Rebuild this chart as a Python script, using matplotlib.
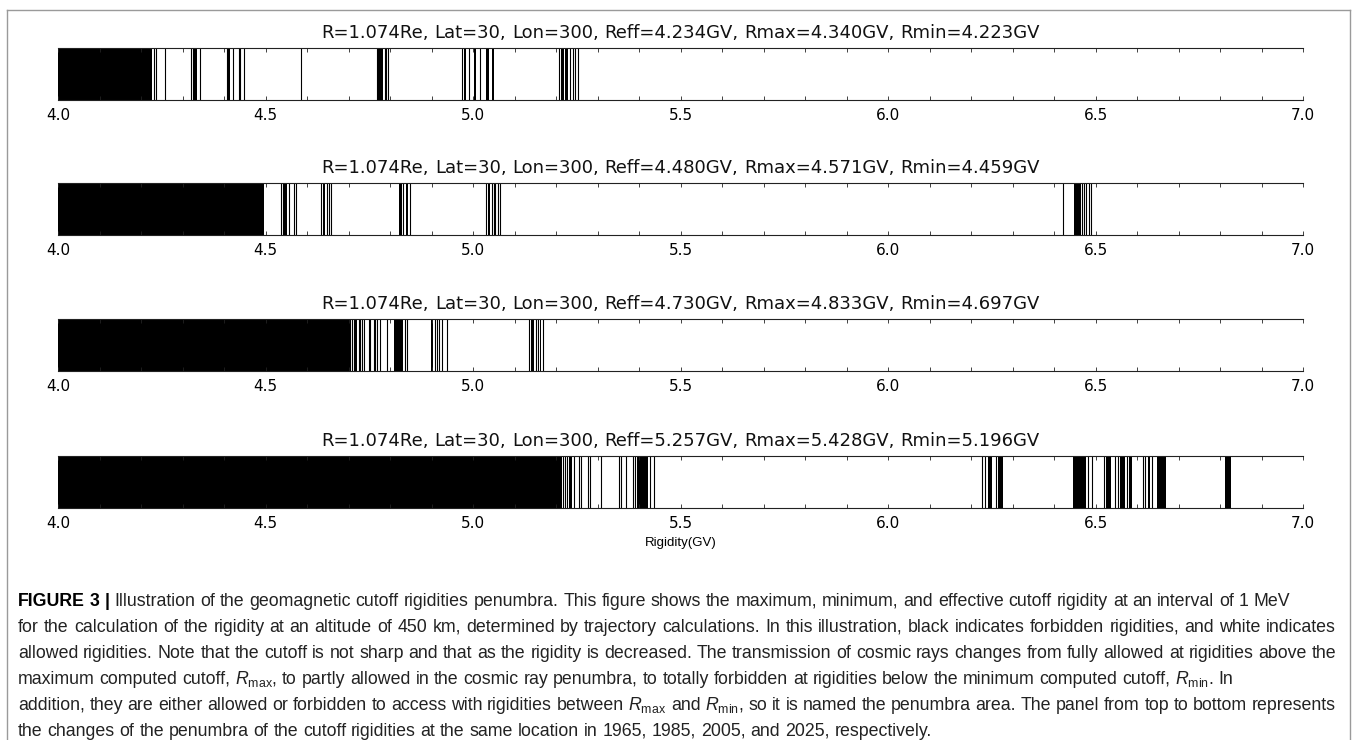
import matplotlib
matplotlib.use("Agg")
import matplotlib.pyplot as plt
import matplotlib.font_manager as fm
from matplotlib.lines import Line2D
from matplotlib.ticker import MultipleLocator, FormatStrFormatter

W, H = 1356, 740

titles = [
    "R=1.074Re, Lat=30, Lon=300, Reff=4.234GV, Rmax=4.340GV, Rmin=4.223GV",
    "R=1.074Re, Lat=30, Lon=300, Reff=4.480GV, Rmax=4.571GV, Rmin=4.459GV",
    "R=1.074Re, Lat=30, Lon=300, Reff=4.730GV, Rmax=4.833GV, Rmin=4.697GV",
    "R=1.074Re, Lat=30, Lon=300, Reff=5.257GV, Rmax=5.428GV, Rmin=5.196GV",
]

# forbidden rigidity bands (GV), (lo, hi); lo == hi is a single 1 MeV step
forbidden_1965 = [
    (4.000, 4.225), (4.230, 4.230), (4.235, 4.235), (4.258, 4.258),
    (4.319, 4.319), (4.324, 4.324), (4.327, 4.334), (4.342, 4.342),
    (4.406, 4.406), (4.410, 4.413), (4.422, 4.422), (4.436, 4.436),
    (4.439, 4.439), (4.448, 4.448), (4.585, 4.587),
    (4.769, 4.769), (4.771, 4.783), (4.787, 4.787), (4.791, 4.791), (4.795, 4.795),
    (4.974, 4.974), (4.978, 4.983), (4.991, 4.991), (5.001, 5.007), (5.017, 5.017),
    (5.031, 5.037), (5.045, 5.051),
    (5.208, 5.208), (5.211, 5.218), (5.222, 5.228), (5.234, 5.234), (5.240, 5.240),
    (5.246, 5.246), (5.252, 5.252),
]
forbidden_1985 = [
    (4.000, 4.461), (4.463, 4.496),
    (4.536, 4.536), (4.541, 4.541), (4.545, 4.551), (4.555, 4.555), (4.567, 4.567),
    (4.573, 4.573),
    (4.634, 4.634), (4.638, 4.643), (4.647, 4.647), (4.652, 4.653), (4.658, 4.658),
    (4.820, 4.828), (4.832, 4.832), (4.838, 4.843), (4.848, 4.848),
    (5.031, 5.031), (5.035, 5.041), (5.045, 5.045), (5.049, 5.049), (5.053, 5.053),
    (5.059, 5.059), (5.064, 5.064),
    (6.422, 6.422), (6.448, 6.464), (6.468, 6.468), (6.472, 6.472), (6.478, 6.478),
    (6.484, 6.484), (6.488, 6.488),
]
forbidden_2005 = [
    (4.000, 4.702), (4.704, 4.704), (4.708, 4.708), (4.712, 4.712), (4.716, 4.720),
    (4.724, 4.724), (4.728, 4.728), (4.732, 4.732), (4.736, 4.736), (4.748, 4.748),
    (4.752, 4.752), (4.760, 4.760), (4.764, 4.764), (4.768, 4.768), (4.776, 4.776),
    (4.792, 4.792), (4.810, 4.832), (4.836, 4.836), (4.840, 4.840),
    (4.898, 4.904), (4.908, 4.908), (4.912, 4.912), (4.917, 4.917), (4.925, 4.925),
    (4.938, 4.938),
    (5.135, 5.135), (5.140, 5.147), (5.151, 5.151), (5.156, 5.156), (5.160, 5.164),
    (5.168, 5.168),
]
forbidden_2025 = [
    (4.000, 5.214), (5.216, 5.216), (5.222, 5.222), (5.227, 5.227), (5.232, 5.238),
    (5.243, 5.243), (5.254, 5.254), (5.259, 5.259), (5.276, 5.276), (5.281, 5.281),
    (5.308, 5.308), (5.351, 5.351), (5.357, 5.357), (5.368, 5.368), (5.384, 5.384),
    (5.389, 5.389), (5.395, 5.422), (5.427, 5.427), (5.436, 5.436),
    (6.227, 6.227), (6.233, 6.233), (6.241, 6.250), (6.259, 6.259), (6.264, 6.277),
    (6.446, 6.476), (6.482, 6.482), (6.491, 6.491),
    (6.520, 6.520), (6.526, 6.537), (6.548, 6.548), (6.554, 6.554), (6.559, 6.570),
    (6.576, 6.576), (6.581, 6.587),
    (6.615, 6.615), (6.620, 6.620), (6.626, 6.631), (6.637, 6.637), (6.648, 6.670),
    (6.812, 6.827),
]
panels = [forbidden_1965, forbidden_1985, forbidden_2005, forbidden_2025]

caption_head = "FIGURE 3 |"
caption_lines = [
    "Illustration of the geomagnetic cutoff rigidities penumbra. This figure shows the maximum, minimum, and effective cutoff rigidity at an interval of 1 MeV",
    "for the calculation of the rigidity at an altitude of 450 km, determined by trajectory calculations. In this illustration, black indicates forbidden rigidities, and white indicates",
    "allowed rigidities. Note that the cutoff is not sharp and that as the rigidity is decreased. The transmission of cosmic rays changes from fully allowed at rigidities above the",
    r"maximum computed cutoff, $R_{\mathrm{max}}$, to partly allowed in the cosmic ray penumbra, to totally forbidden at rigidities below the minimum computed cutoff, $R_{\mathrm{min}}$. In",
    r"addition, they are either allowed or forbidden to access with rigidities between $R_{\mathrm{max}}$ and $R_{\mathrm{min}}$, so it is named the penumbra area. The panel from top to bottom represents",
    "the changes of the penumbra of the cutoff rigidities at the same location in 1965, 1985, 2005, and 2025, respectively.",
]
justified = [False, True, True, False, True, False]

names = {f.name for f in fm.fontManager.ttflist}
cap_font = "Liberation Sans Narrow" if "Liberation Sans Narrow" in names else "Liberation Sans"
plt.rcParams["mathtext.fontset"] = "custom"
plt.rcParams["mathtext.rm"] = cap_font
plt.rcParams["mathtext.it"] = cap_font + ":italic"

fig = plt.figure(figsize=(W / 100, H / 100), dpi=100)
renderer = fig.canvas.get_renderer()


def text_width(s, **kw):
    t = fig.text(0, 0, s, **kw)
    w = t.get_window_extent(renderer).width
    t.remove()
    return w


def place_words(words, x_start, y_px, gap, styles):
    x = x_start
    for w, st in zip(words, styles):
        fig.text(x / W, 1 - y_px / H, w, ha="left", va="baseline", **st)
        x += text_width(w, **st) + gap


x0, x1 = 58.3, 1303.0
bar_top = [48, 183, 319, 456]
bar_h = 52
title_style = dict(fontsize=13, color="#111111")
title_space = text_width("x x", **title_style) - text_width("xx", **title_style)

for k, data in enumerate(panels):
    ax = fig.add_axes([x0 / W, 1 - (bar_top[k] + bar_h) / H, (x1 - x0) / W, bar_h / H])
    ax.set_xlim(4.0, 7.0)
    ax.set_ylim(0, 1)
    for lo, hi in data:
        if hi - lo < 0.002:
            ax.vlines(lo, 0, 1, color="black", lw=0.8)
        else:
            ax.broken_barh([(lo, hi - lo)], (0, 1), facecolor="black", edgecolor="none")
    for s in ("left", "right"):
        ax.spines[s].set_visible(False)
    for s in ("top", "bottom"):
        ax.spines[s].set_linewidth(0.8)
        ax.spines[s].set_color("#222222")
    ax.set_yticks([])
    ax.xaxis.set_major_locator(MultipleLocator(0.5))
    ax.xaxis.set_minor_locator(MultipleLocator(0.1))
    ax.xaxis.set_major_formatter(FormatStrFormatter("%.1f"))
    ax.tick_params(which="both", direction="in", top=True, bottom=True,
                   length=3, width=0.6, color="#222222")
    ax.tick_params(which="major", labelsize=11, pad=6)

    # panel title, word by word, centred over the bar
    words = titles[k].split(" ")
    total = sum(text_width(w, **title_style) for w in words) + title_space * (len(words) - 1)
    place_words(words, (x0 + x1) / 2 - total / 2, bar_top[k] - 10, title_space,
                [title_style] * len(words))

fig.text((x0 + x1) / 2 / W, 1 - 543 / H, "Rigidity(GV)", ha="center", va="center",
         fontsize=9.5, family="Liberation Sans")

# outer frame
frame = dict(color="#9a9a9a", lw=1.0, transform=fig.transFigure)
fig.add_artist(Line2D([7 / W, 1350 / W], [1 - 10 / H, 1 - 10 / H], **frame))
fig.add_artist(Line2D([7 / W, 7 / W], [0, 1 - 10 / H], **frame))
fig.add_artist(Line2D([1350 / W, 1350 / W], [0, 1 - 10 / H], **frame))

# caption: size so the longest line fits, full lines justified word by word
cap_x, cap_right, cap_y0, cap_dy = 18, 1336, 606, 26
size = 10.0
for _ in range(3):
    size *= (cap_right - cap_x) / text_width(caption_lines[4], fontsize=size, family=cap_font)
body = dict(fontsize=size, family=cap_font, color="#222222")
head = dict(fontsize=size, family=cap_font, color="black", weight="bold")
space = text_width("x x", **body) - text_width("xx", **body)

for i, line in enumerate(caption_lines):
    words = line.split(" ")
    styles = [body] * len(words)
    if i == 0:
        words = caption_head.split(" ") + words
        styles = [head] * 3 + styles
    gap = space
    if justified[i]:
        widths = sum(text_width(w, **st) for w, st in zip(words, styles))
        gap = (cap_right - cap_x - widths) / (len(words) - 1)
    place_words(words, cap_x, cap_y0 + i * cap_dy, gap, styles)

fig.savefig("out.png", dpi=100)
